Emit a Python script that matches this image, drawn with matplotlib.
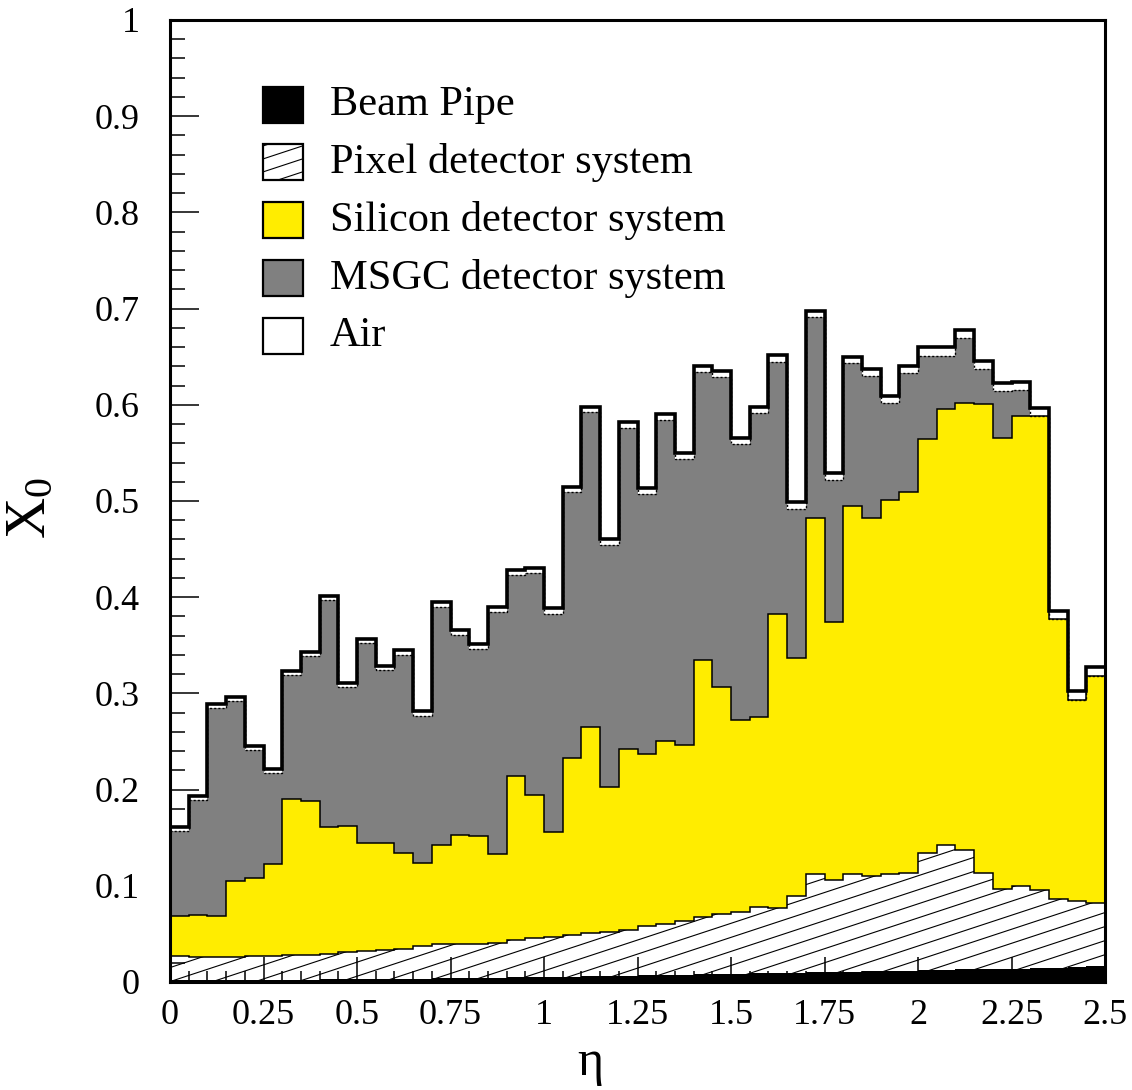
import numpy as np
import matplotlib.pyplot as plt
from matplotlib.patches import Rectangle
from matplotlib.ticker import MultipleLocator, FuncFormatter

plt.rcParams['font.family'] = ['Liberation Serif', 'DejaVu Serif']
plt.rcParams['mathtext.fontset'] = 'custom'
plt.rcParams['mathtext.rm'] = 'Liberation Serif'

# eta binning: 50 bins of width 0.05
eta_edges = np.linspace(0.0, 2.5, 51)

# radiation length contribution of each sub-system per eta bin
beam_pipe = [0.002, 0.002, 0.002, 0.002, 0.002, 0.002, 0.002, 0.002, 0.003, 0.003,
             0.003, 0.003, 0.003, 0.003, 0.004, 0.004, 0.004, 0.004, 0.005, 0.005,
             0.005, 0.005, 0.006, 0.006, 0.006, 0.007, 0.007, 0.007, 0.008, 0.008,
             0.008, 0.009, 0.009, 0.009, 0.010, 0.010, 0.010, 0.011, 0.011, 0.011,
             0.012, 0.012, 0.013, 0.013, 0.014, 0.014, 0.015, 0.015, 0.016, 0.017]

pixel = [0.025, 0.024, 0.024, 0.024, 0.025, 0.025, 0.026, 0.026, 0.026, 0.028,
         0.029, 0.030, 0.031, 0.034, 0.035, 0.036, 0.036, 0.037, 0.039, 0.041,
         0.042, 0.044, 0.045, 0.046, 0.048, 0.051, 0.053, 0.056, 0.060, 0.063,
         0.065, 0.069, 0.068, 0.080, 0.102, 0.096, 0.102, 0.099, 0.101, 0.102,
         0.122, 0.130, 0.124, 0.100, 0.083, 0.086, 0.081, 0.071, 0.068, 0.065]

silicon = [0.042, 0.044, 0.043, 0.079, 0.081, 0.096, 0.162, 0.160, 0.132, 0.131,
           0.112, 0.111, 0.100, 0.087, 0.103, 0.113, 0.112, 0.092, 0.170, 0.148,
           0.109, 0.184, 0.214, 0.151, 0.188, 0.179, 0.191, 0.183, 0.267, 0.236,
           0.199, 0.197, 0.306, 0.248, 0.370, 0.268, 0.383, 0.372, 0.389, 0.396,
           0.430, 0.454, 0.465, 0.488, 0.468, 0.488, 0.492, 0.291, 0.209, 0.236]

msgc = [0.088, 0.119, 0.216, 0.187, 0.133, 0.094, 0.129, 0.151, 0.236, 0.145,
        0.208, 0.180, 0.206, 0.153, 0.248, 0.208, 0.194, 0.252, 0.209, 0.231,
        0.227, 0.276, 0.327, 0.251, 0.334, 0.270, 0.333, 0.298, 0.299, 0.322,
        0.287, 0.316, 0.262, 0.155, 0.209, 0.148, 0.148, 0.148, 0.101, 0.124,
        0.087, 0.055, 0.067, 0.036, 0.049, 0.027, 0.000, 0.000, 0.000, 0.000]

air = [0.004, 0.004, 0.004, 0.004, 0.004, 0.004, 0.004, 0.004, 0.004, 0.004,
       0.005, 0.005, 0.005, 0.005, 0.005, 0.005, 0.005, 0.005, 0.005, 0.005,
       0.006, 0.006, 0.006, 0.006, 0.006, 0.006, 0.006, 0.006, 0.006, 0.006,
       0.007, 0.007, 0.007, 0.007, 0.007, 0.007, 0.007, 0.007, 0.007, 0.007,
       0.009, 0.009, 0.009, 0.009, 0.009, 0.009, 0.009, 0.009, 0.009, 0.009]

labels = ['Beam Pipe', 'Pixel detector system', 'Silicon detector system',
          'MSGC detector system', 'Air']

YELLOW = '#ffed00'
GREY = '#808080'

# cumulative stack
tops = np.cumsum(np.vstack([beam_pipe, pixel, silicon, msgc, air]), axis=0)

fig = plt.figure(figsize=(11.32, 10.90), dpi=100)
ax = fig.add_axes([170 / 1132, 1 - 982 / 1090, 935 / 1132, 962 / 1090])
ax.set_xlim(0, 2.5)
ax.set_ylim(0, 1)

# beam pipe
ax.stairs(tops[0], eta_edges, baseline=0, fill=True, color='black', zorder=1.2)

# pixel: hatched, no face colour
pix_region = ax.stairs(tops[1], eta_edges, baseline=tops[0], fill=True,
                       facecolor='none', edgecolor='none', zorder=1)
slope = 0.128      # hatch slope in data units
spacing = 0.0146   # vertical distance between hatch lines
for c in np.arange(-0.35, 0.2, spacing):
    hl, = ax.plot([0, 2.5], [c, c + slope * 2.5], color='black', lw=0.8, zorder=1.1)
    hl.set_clip_path(pix_region)

# silicon, msgc, air fills
ax.stairs(tops[2], eta_edges, baseline=tops[1], fill=True, color=YELLOW, zorder=1)
ax.stairs(tops[3], eta_edges, baseline=tops[2], fill=True, color=GREY, zorder=1)
ax.stairs(tops[4], eta_edges, baseline=tops[3], fill=True, color='white', zorder=1)

# outlines
ax.stairs(tops[1], eta_edges, baseline=None, color='black', lw=1.1, zorder=2)
ax.stairs(tops[2], eta_edges, baseline=None, color='black', lw=1.1, zorder=2)
ax.stairs(tops[3], eta_edges, baseline=None, color='black', lw=1.0,
          linestyle=(0, (1.5, 1.5)), zorder=2)
ax.stairs(tops[4], eta_edges, baseline=None, color='black', lw=2.6, zorder=3)

# axes styling
ax.set_axisbelow(True)
for sp in ax.spines.values():
    sp.set_linewidth(2.2)
    sp.set_zorder(4)
ax.xaxis.set_major_locator(MultipleLocator(0.25))
ax.xaxis.set_minor_locator(MultipleLocator(0.05))
ax.yaxis.set_major_locator(MultipleLocator(0.1))
ax.yaxis.set_minor_locator(MultipleLocator(0.02))
fmt = FuncFormatter(lambda v, p: f'{v:g}')
ax.xaxis.set_major_formatter(fmt)
ax.yaxis.set_major_formatter(fmt)
ax.tick_params(which='both', direction='in', top=False, right=False, width=1.1,
               labelsize=26)
ax.tick_params(axis='x', which='major', length=18, pad=12)
ax.tick_params(axis='x', which='minor', length=8)
ax.tick_params(axis='y', which='major', length=21, pad=22)
ax.tick_params(axis='y', which='minor', length=10.5)

fig.text(31 / 1132, 1 - 508 / 1090, r'$\mathregular{X_0}$', fontsize=41,
         rotation=90, ha='center', va='center')
fig.text(590 / 1132, 1 - 1063 / 1090, 'η', fontsize=36, ha='center', va='center')

# legend
row_px = [104.7, 162, 220, 278, 336]
box_x, box_w, box_h = 92.7 / 935, 40 / 935, 36 / 962
faces = ['black', 'white', YELLOW, GREY, 'white']
for i, (lab, face) in enumerate(zip(labels, faces)):
    yc = (982 - row_px[i]) / 962
    rect = Rectangle((box_x, yc - box_h / 2), box_w, box_h, transform=ax.transAxes,
                     facecolor=face, edgecolor='black', lw=1.6, zorder=5)
    ax.add_patch(rect)
    if i == 1:
        for c in np.arange(yc - box_h, yc + box_h, 0.0135):
            hl, = ax.plot([box_x, box_x + box_w], [c, c + 0.32 * box_w],
                          transform=ax.transAxes, color='black', lw=0.8, zorder=5)
            hl.set_clip_path(rect)
    ax.text(160.0 / 935, yc, lab, transform=ax.transAxes, fontsize=30.5,
            ha='left', va='center', zorder=5)

fig.savefig('out.png', dpi=100)
